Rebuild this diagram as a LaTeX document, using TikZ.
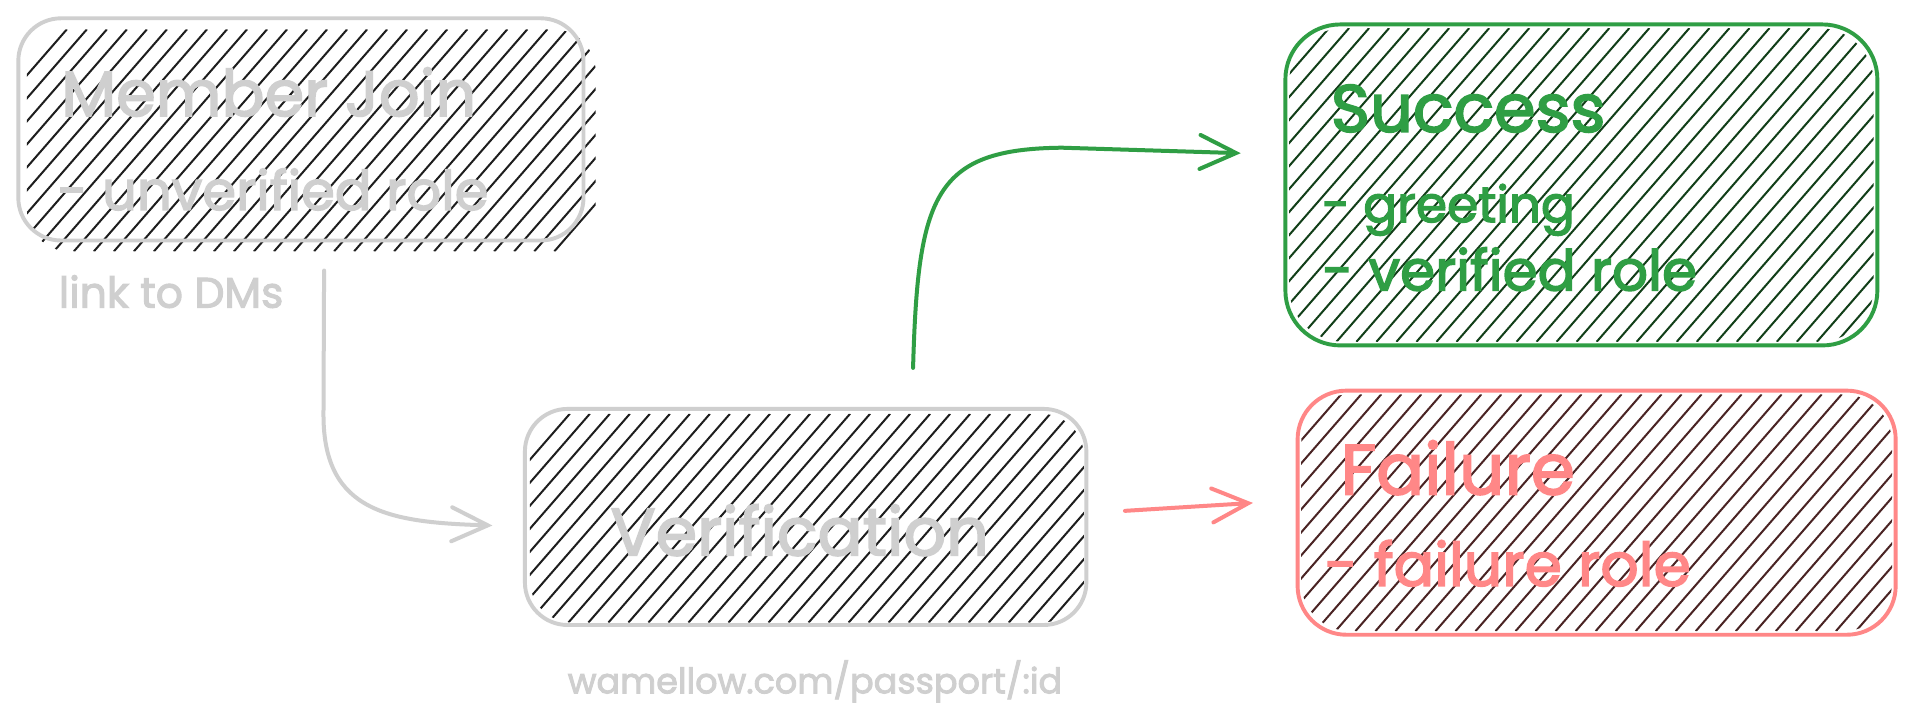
\documentclass[tikz,border=0pt]{standalone}
\usepackage{fontspec}
\setmainfont{Poppins}[FakeBold=2.5]
\usetikzlibrary{arrows.meta,calc}
\definecolor{lg}{HTML}{CFCFCF}
\definecolor{ink}{HTML}{1E1E1E}
\definecolor{okg}{HTML}{2F9E44}
\definecolor{okh}{HTML}{123F19}
\definecolor{bad}{HTML}{FF8787}
\definecolor{badh}{HTML}{4A2424}
\newcommand{\fitw}[2]{\resizebox{#1}{!}{\fontsize{40}{48}\selectfont #2}}
\newcommand{\hatchbox}[6]{%
  \begin{scope}
    \clip[rounded corners=#5] (#1,#2) rectangle (#3,#4);
    \pgfmathsetmacro\hh{#4-#2}
    \pgfmathsetmacro\dx{0.87*\hh}
    \pgfmathsetmacro\xa{#1-\dx}
    \pgfmathsetmacro\xb{#1-\dx+16.4}
    \foreach \xx in {\xa,\xb,...,#3} {
      \draw[hatchline,#6] (\xx,#4) -- ++(\dx,-\hh);
    }
  \end{scope}}
\begin{document}
\begin{tikzpicture}[x=1.2207pt,y=-1.2207pt,
  box/.style={draw, line width=3.9pt, inner sep=0pt},
  hatchline/.style={line width=2pt},
  txt/.style={inner sep=0pt, anchor=base west},
  conn/.style={line width=4pt, line cap=round, line join=round,
    -{Straight Barb[length=36pt,width=34pt,line width=4pt,line cap=round]}}
]
\useasboundingbox (0,0) rectangle (1568,594.75);
\fill[white] (0,0) rectangle (1568,594.75);

% hatching
\hatchbox{22}{24}{488}{206}{42.7pt}{ink}
\hatchbox{434}{339}{888}{510}{42.7pt}{ink}
\hatchbox{1056}{23}{1535}{280}{54.9pt}{okh}
\hatchbox{1066}{323}{1550}{517}{48.8pt}{badh}

% boxes
\node[box, draw=lg, rounded corners=42.7pt, minimum width=565.2pt, minimum height=222.2pt] (join) at (246.5,106) {};
\node[box, draw=lg, rounded corners=42.7pt, minimum width=561.5pt, minimum height=216.1pt] (verif) at (660,423.5) {};
\node[box, draw=okg, rounded corners=54.9pt, minimum width=592.0pt, minimum height=321.0pt] (success) at (1295.5,151.5) {};
\node[box, draw=bad, rounded corners=48.8pt, minimum width=598.1pt, minimum height=244.1pt] (failure) at (1308,420) {};

% texts
\node[txt, text=lg] (t1) at (50,95) {\fitw{415.0pt}{Member Join}};
\node[txt, text=lg] (t2) at (47,172) {\fitw{430.9pt}{- unverified role}};
\node[txt, text=lg] (t3) at (48,252) {\fitw{224.6pt}{link to DMs}};
\node[txt, text=lg] (t4) at (500,455) {\fitw{378.4pt}{Verification}};
\node[txt, text=lg] (t5) at (465,568) {\fitw{494.4pt}{wamellow.com/passport/:id}};
\node[txt, text=okg] (t6) at (1090,108) {\fitw{274.7pt}{Success}};
\node[txt, text=okg] (t7) at (1083,182) {\fitw{252.7pt}{- greeting}};
\node[txt, text=okg] (t8) at (1083,238) {\fitw{374.8pt}{- verified role}};
\node[txt, text=bad] (t9) at (1098,405) {\fitw{234.4pt}{Failure}};
\node[txt, text=bad] (t10) at (1085,480) {\fitw{366.2pt}{- failure role}};

% connectors
\coordinate (g1) at ($(join.south)+(19,23)$);
\coordinate (g2) at ($(verif.west)+(-25,7)$);
\draw[conn, draw=lg] (g1) -- (265,340) .. controls (265,420) and (320,428) .. (g2);

\coordinate (s1) at ($(verif.north)+(88,-32)$);
\coordinate (s2) at ($(success.west)+(-35,-26)$);
\draw[conn, draw=okg] (s1) .. controls (752,160) and (765,122) .. (870,121) -- (s2);

\coordinate (f1) at ($(verif.east)+(30,-5)$);
\coordinate (f2) at ($(failure.west)+(-35,-8)$);
\draw[conn, draw=bad] (f1) -- (f2);
\end{tikzpicture}
\end{document}
